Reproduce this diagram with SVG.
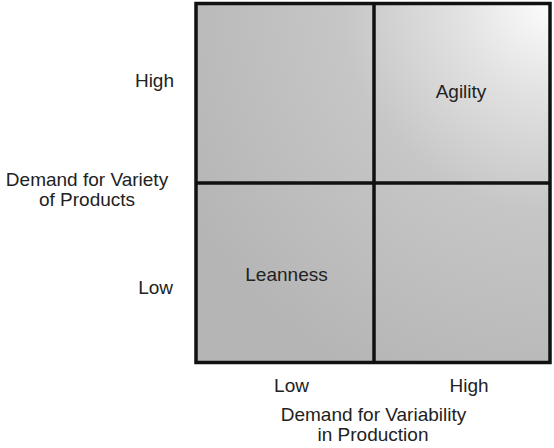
<svg xmlns="http://www.w3.org/2000/svg" width="554" height="448" viewBox="0 0 554 448">
<style>
text{font-family:"Liberation Sans",Arial,sans-serif;font-size:19px;fill:#222}
.grid{fill:none;stroke:#111;stroke-width:3.5}
</style>
<defs>
<radialGradient id="shade" gradientUnits="userSpaceOnUse" cx="552" cy="2" r="420">
<stop offset="0" stop-color="#fdfdfd"/>
<stop offset="0.22" stop-color="#e2e2e2"/>
<stop offset="0.5" stop-color="#c6c6c6"/>
<stop offset="1" stop-color="#b5b5b5"/>
</radialGradient>
</defs>
<rect width="554" height="448" fill="#fff"/>
<g id="matrix">
<rect x="196" y="3.5" width="354" height="359" fill="url(#shade)"/>
</g>
<g id="connectors">
<rect class="grid" x="196" y="3.5" width="354" height="359"/>
<line class="grid" x1="374" y1="3.5" x2="374" y2="362.5"/>
<line class="grid" x1="196" y1="183" x2="550" y2="183"/>
</g>
<g id="agility"><text x="461" y="98" text-anchor="middle">Agility</text></g>
<g id="leanness"><text x="286.5" y="281" text-anchor="middle">Leanness</text></g>
<g id="y-axis">
<text x="174" y="87" text-anchor="end">High</text>
<text x="173" y="294" text-anchor="end">Low</text>
<text x="87" y="186" text-anchor="middle">Demand for Variety</text>
<text x="87" y="206" text-anchor="middle">of Products</text>
</g>
<g id="x-axis">
<text x="291.5" y="392" text-anchor="middle">Low</text>
<text x="469" y="392" text-anchor="middle">High</text>
<text x="373.5" y="421" text-anchor="middle">Demand for Variability</text>
<text x="373" y="441" text-anchor="middle">in Production</text>
</g>
</svg>
